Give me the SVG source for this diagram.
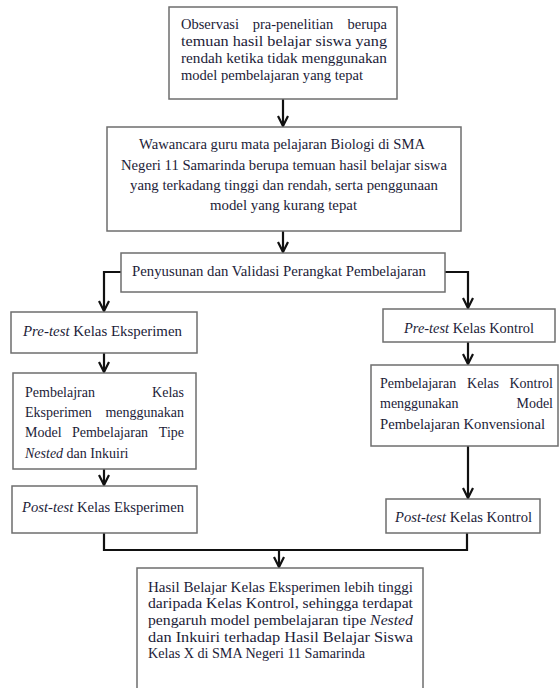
<svg xmlns="http://www.w3.org/2000/svg" width="560" height="688" viewBox="0 0 560 688">
<style>
.box{fill:#fff;stroke:#6e6e6e;stroke-width:1.5}
text{font-family:"Liberation Serif","Times New Roman",serif;font-size:14.5px;fill:#1c1c38}
.s{font-size:14px}
.it{font-style:italic}
.m{text-anchor:middle}
.e{text-anchor:end}
.con{fill:none;stroke:#111;stroke-width:2.2}
</style>
<defs>
<marker id="arr" markerUnits="userSpaceOnUse" viewBox="0 0 12 12" refX="11" refY="6" markerWidth="12" markerHeight="12" orient="auto">
<path d="M1,1 L11,6 L1,11" fill="none" stroke="#111" stroke-width="2.2"/>
</marker>
</defs>
<rect width="560" height="688" fill="#fff"/>
<g id="connectors">
<path class="con" d="M283,99 V126" marker-end="url(#arr)"/>
<path class="con" d="M283,231 V252" marker-end="url(#arr)"/>
<path class="con" d="M121,272 H104 V311" marker-end="url(#arr)"/>
<path class="con" d="M445,272 H468 V308" marker-end="url(#arr)"/>
<path class="con" d="M104,353 V372" marker-end="url(#arr)"/>
<path class="con" d="M468,342 V364" marker-end="url(#arr)"/>
<path class="con" d="M104,469 V485" marker-end="url(#arr)"/>
<path class="con" d="M468,446 V498" marker-end="url(#arr)"/>
<path class="con" d="M104,533 V550 H467 V533"/>
<path class="con" d="M279,550 V567" marker-end="url(#arr)"/>
</g>
<g id="n1">
<rect class="box" x="169" y="7" width="228" height="92"/>
<text x="181" y="29">Observasi</text>
<text class="m" x="293" y="29">pra-penelitian</text>
<text class="e" x="387" y="29">berupa</text>
<text x="181" y="46" textLength="206" lengthAdjust="spacingAndGlyphs">temuan hasil belajar siswa yang</text>
<text x="181" y="63" textLength="206" lengthAdjust="spacingAndGlyphs">rendah ketika tidak menggunakan</text>
<text x="181" y="80" textLength="182" lengthAdjust="spacingAndGlyphs">model pembelajaran yang tepat</text>
</g>
<g id="n2">
<rect class="box" x="107" y="127" width="354" height="104"/>
<text x="139" y="149" textLength="286" lengthAdjust="spacingAndGlyphs">Wawancara guru mata pelajaran Biologi di SMA</text>
<text x="121" y="170" textLength="326" lengthAdjust="spacingAndGlyphs">Negeri 11 Samarinda berupa temuan hasil belajar siswa</text>
<text x="130" y="190" textLength="308" lengthAdjust="spacingAndGlyphs">yang terkadang tinggi dan rendah, serta penggunaan</text>
<text x="210" y="210" textLength="147" lengthAdjust="spacingAndGlyphs">model yang kurang tepat</text>
</g>
<g id="n3">
<rect class="box" x="121" y="253" width="324" height="39"/>
<text x="132" y="276" textLength="294" lengthAdjust="spacingAndGlyphs">Penyusunan dan Validasi Perangkat Pembelajaran</text>
</g>
<g id="n4">
<rect class="box" x="11" y="312" width="186" height="41"/>
<text x="23" y="336" textLength="159" lengthAdjust="spacingAndGlyphs"><tspan class="it">Pre-test</tspan> Kelas Eksperimen</text>
</g>
<g id="n5">
<rect class="box" x="383" y="309" width="172" height="33"/>
<text x="404" y="333" textLength="130" lengthAdjust="spacingAndGlyphs"><tspan class="it">Pre-test</tspan> Kelas Kontrol</text>
</g>
<g id="n6">
<rect class="box" x="13" y="373" width="183" height="96"/>
<text class="s" x="25" y="397">Pembelajran</text>
<text class="s e" x="184" y="397">Kelas</text>
<text class="s" x="25" y="417">Eksperimen</text>
<text class="s e" x="184" y="417">menggunakan</text>
<text class="s" x="25" y="437">Model</text>
<text class="s m" x="110" y="437">Pembelajaran</text>
<text class="s e" x="184" y="437">Tipe</text>
<text class="s" x="25" y="458"><tspan class="it">Nested</tspan> dan Inkuiri</text>
</g>
<g id="n7">
<rect class="box" x="371" y="365" width="187" height="81"/>
<text class="s" x="380" y="388">Pembelajaran</text>
<text class="s m" x="483" y="388">Kelas</text>
<text class="s e" x="553" y="388">Kontrol</text>
<text class="s" x="380" y="408">menggunakan</text>
<text class="s e" x="553" y="408">Model</text>
<text x="380" y="429" textLength="165" lengthAdjust="spacingAndGlyphs">Pembelajaran Konvensional</text>
</g>
<g id="n8">
<rect class="box" x="12" y="486" width="185" height="47"/>
<text x="22" y="512" textLength="162" lengthAdjust="spacingAndGlyphs"><tspan class="it">Post-test</tspan> Kelas Eksperimen</text>
</g>
<g id="n9">
<rect class="box" x="386" y="499" width="154" height="34"/>
<text x="395" y="522" textLength="137" lengthAdjust="spacingAndGlyphs"><tspan class="it">Post-test</tspan> Kelas Kontrol</text>
</g>
<g id="n10">
<rect class="box" x="137" y="568" width="286" height="130"/>
<text x="148" y="592" textLength="265" lengthAdjust="spacingAndGlyphs">Hasil Belajar Kelas Eksperimen lebih tinggi</text>
<text x="148" y="608" textLength="265" lengthAdjust="spacingAndGlyphs">daripada Kelas Kontrol, sehingga terdapat</text>
<text x="148" y="625" textLength="265" lengthAdjust="spacingAndGlyphs">pengaruh  model pembelajaran tipe <tspan class="it">Nested</tspan></text>
<text x="148" y="642" textLength="265" lengthAdjust="spacingAndGlyphs">dan Inkuiri terhadap Hasil Belajar Siswa</text>
<text x="148" y="658" textLength="217" lengthAdjust="spacingAndGlyphs">Kelas X di SMA Negeri 11 Samarinda</text>
</g>
</svg>
